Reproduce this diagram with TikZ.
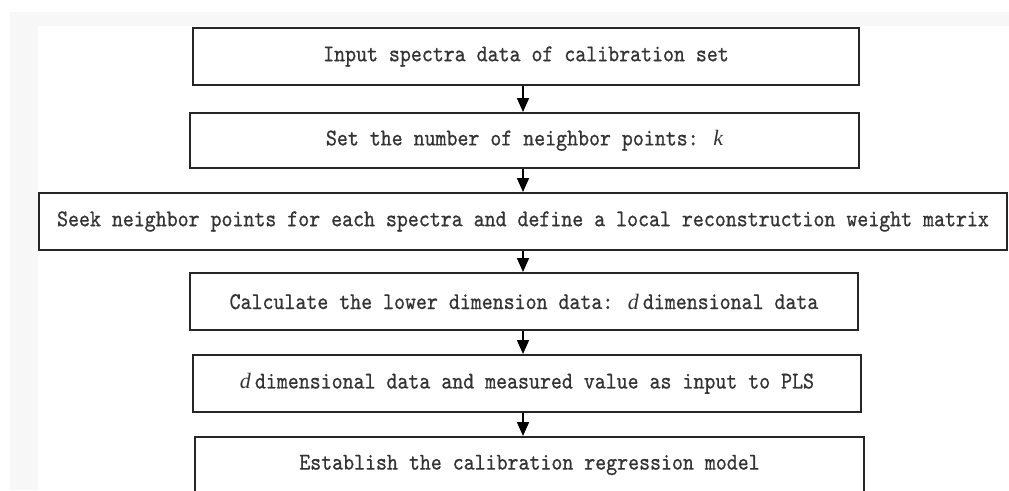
\documentclass[tikz,border=0pt]{standalone}
\usepackage{fontspec}
\usetikzlibrary{arrows.meta}
\newfontfamily\boxfont{lmmono10-regular}[Extension=.otf, FakeStretch=0.87, FakeBold=0.7]
\newfontfamily\varfont{Liberation Serif}
\newcommand{\mvar}[1]{{\varfont\itshape\fontsize{22}{26}\selectfont #1}}
\begin{document}
\begin{tikzpicture}[x=1pt,y=-1pt,
  stepbox/.style={draw=black!85, line width=2pt, fill=white, inner sep=0pt,
    font=\boxfont\fontsize{24}{26}\selectfont, text=black!80},
  flow/.style={draw=black, line width=1.6pt,
    -{Triangle[width=12pt,length=14pt]}}]
  \useasboundingbox (0,0) rectangle (1009,490);
  \clip (0,0) rectangle (1009,490);
  % page backdrop
  \fill[black!3] (10,12) rectangle (1009,490);
  \fill[white] (38,26) rectangle (1009,490);

  % process steps
  \node[stepbox, minimum width=666pt, minimum height=57pt] (b1) at (526,56.5)
    {Input spectra data of calibration set};
  \node[stepbox, minimum width=669pt, minimum height=55pt] (b2) at (524.5,140.5)
    {Set the number of neighbor points: \mvar{k}};
  \node[stepbox, minimum width=968pt, minimum height=57pt] (b3) at (523,221.5)
    {Seek neighbor points for each spectra and define a local reconstruction weight matrix};
  \node[stepbox, minimum width=668pt, minimum height=57pt] (b4) at (524,301.5)
    {Calculate the lower dimension data: \mvar{d}\,dimensional data};
  \node[stepbox, minimum width=668pt, minimum height=57pt] (b5) at (527,383.5)
    {\mvar{d}\,dimensional data and measured value as input to PLS};
  \node[stepbox, minimum width=669pt, minimum height=56pt] (b6) at (529.5,465)
    {Establish the calibration regression model};

  % connectors
  \coordinate (ax) at (523,0);
  \draw[flow] (b1.south -| ax) -- (b2.north -| ax);
  \draw[flow] (b2.south -| ax) -- (b3.north -| ax);
  \draw[flow] (b3.south -| ax) -- (b4.north -| ax);
  \draw[flow] (b4.south -| ax) -- (b5.north -| ax);
  \draw[flow] (b5.south -| ax) -- (b6.north -| ax);
\end{tikzpicture}
\end{document}
